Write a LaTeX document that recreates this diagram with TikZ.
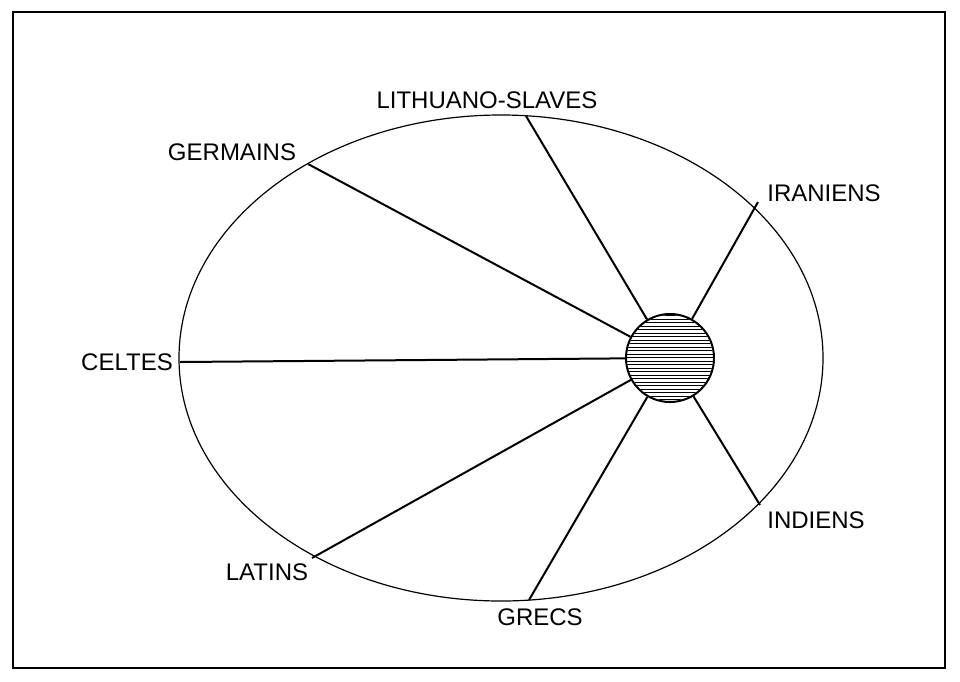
\documentclass[tikz,border=0pt]{standalone}
\usepackage{fontspec}
\setmainfont{Liberation Sans}
\begin{document}
\begin{tikzpicture}[x=1pt,y=-1pt,
  lab/.style={font=\fontsize{24}{26}\selectfont,inner sep=1pt},
  ray/.style={line width=2pt}]
\useasboundingbox (0,0) rectangle (960,681);
\draw[line width=1.2pt] (13,12) rectangle (945,668);
\draw[line width=1.2pt] (501,358) ellipse [x radius=322, y radius=243];
\node[circle,draw,line width=2pt,minimum size=88pt,inner sep=0pt] (hub) at (670,358) {};
\begin{scope}
\clip (670,358) circle (43);
\foreach \y in {312,315.5,...,406} \draw[line width=0.8pt] (620,\y) -- (720,\y);
\end{scope}
\coordinate (g) at (308,164);
\coordinate (l) at (526,116);
\coordinate (i) at (758,202);
\coordinate (c) at (180,362);
\coordinate (la) at (312,558);
\coordinate (gr) at (529,600);
\coordinate (in) at (760,505);
\foreach \p in {g,l,i,c,la,gr,in} \draw[ray] (hub) -- (\p);
\node[lab] (tg) at (232,152) {GERMAINS};
\node[lab] (tl) at (487,100) {LITHUANO-SLAVES};
\node[lab] (ti) at (824,193) {IRANIENS};
\node[lab] (tc) at (127,362) {CELTES};
\node[lab] (tla) at (267,572) {LATINS};
\node[lab] (tgr) at (540,617) {GRECS};
\node[lab] (tin) at (816,520) {INDIENS};
\end{tikzpicture}
\end{document}
